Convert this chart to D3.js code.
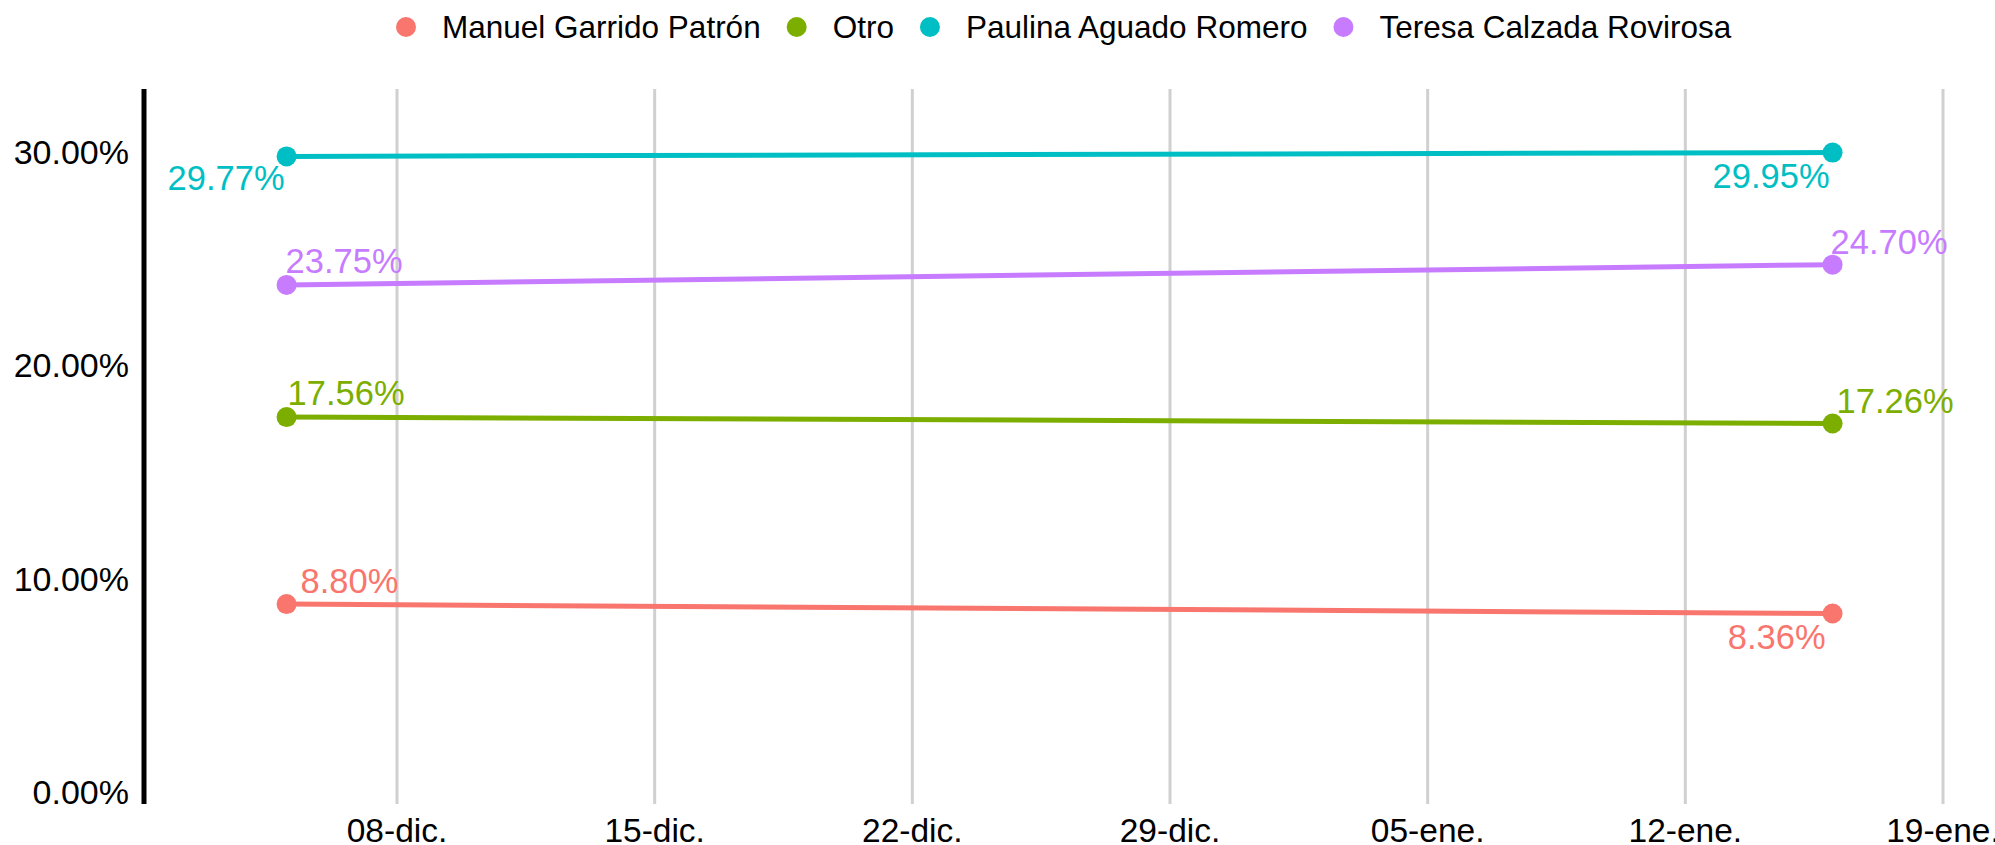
<!DOCTYPE html>
<html>
<head>
<meta charset="utf-8">
<script src="https://cdn.jsdelivr.net/npm/d3@7"></script>
<style>
  html, body { margin: 0; padding: 0; background: #ffffff; }
  svg { display: block; font-family: "Liberation Sans", Arial, Helvetica, sans-serif; }
</style>
</head>
<body>
<svg id="chart" width="1995" height="845"></svg>
<script>
// ---- data ----
const seriesNames = ["Manuel Garrido Patrón", "Otro", "Paulina Aguado Romero", "Teresa Calzada Rovirosa"];
const seriesColors = ["#F8766D", "#7CAE00", "#00BFC4", "#C77CFF"];
const pollDates = ["2023-12-05", "2024-01-16"];
const manuelValues = [8.80, 8.36];
const otroValues = [17.56, 17.26];
const paulinaValues = [29.77, 29.95];
const teresaValues = [23.75, 24.70];
const yTickValues = [0, 10, 20, 30];
const xTickDates = ["2023-12-08", "2023-12-15", "2023-12-22", "2023-12-29", "2024-01-05", "2024-01-12", "2024-01-19"];
const monthAbbr = ["ene.", "feb.", "mar.", "abr.", "may.", "jun.", "jul.", "ago.", "sept.", "oct.", "nov.", "dic."];

// label placement (styling only): anchor, dx, dy per series for first/last point
const labelPlacement = [
  [{a: "start", dx: 14, dy: -11}, {a: "end", dx: -7, dy: 35}],
  [{a: "start", dx: 1, dy: -12}, {a: "start", dx: 4, dy: -10}],
  [{a: "end", dx: -2, dy: 34}, {a: "end", dx: -3, dy: 35}],
  [{a: "start", dx: -1, dy: -12}, {a: "start", dx: -2, dy: -11}]
];

const allValues = [manuelValues, otroValues, paulinaValues, teresaValues];
const parse = d3.timeParse("%Y-%m-%d");
const dates = pollDates.map(parse);

const svg = d3.select("#chart");

// scales
const x = d3.scaleTime()
  .domain([parse("2023-12-08"), parse("2024-01-19")])
  .range([397, 1943]);
const y = d3.scaleLinear()
  .domain([0, 30])
  .range([792, 151.5]);

const panelTop = 89, panelBottom = 804, axisX = 144;

// vertical gridlines
const xTicks = xTickDates.map(parse);
svg.append("g").selectAll("line").data(xTicks).join("line")
  .attr("x1", d => x(d)).attr("x2", d => x(d))
  .attr("y1", panelTop).attr("y2", panelBottom)
  .attr("stroke", "#d0d0d0").attr("stroke-width", 3);

// x tick labels
const fmtX = d => d3.timeFormat("%d")(d) + "-" + monthAbbr[d.getMonth()];
svg.append("g").selectAll("text").data(xTicks).join("text")
  .attr("x", d => x(d)).attr("y", 842)
  .attr("text-anchor", "middle")
  .attr("font-size", 33.5)
  .attr("fill", "#000")
  .text(fmtX);

// y axis line
svg.append("line")
  .attr("x1", axisX).attr("x2", axisX)
  .attr("y1", panelTop).attr("y2", panelBottom)
  .attr("stroke", "#000").attr("stroke-width", 5);

// y tick labels
svg.append("g").selectAll("text").data(yTickValues).join("text")
  .attr("x", 129).attr("y", d => y(d))
  .attr("dy", "0.36em")
  .attr("text-anchor", "end")
  .attr("font-size", 34)
  .attr("fill", "#000")
  .text(d => d3.format(".2f")(d) + "%");

// lines, points, labels
const line = d3.line().x(d => x(d.date)).y(d => y(d.value));
seriesNames.forEach((name, i) => {
  const pts = dates.map((dt, j) => ({date: dt, value: allValues[i][j]}));
  const g = svg.append("g");
  g.append("path").datum(pts)
    .attr("d", line)
    .attr("fill", "none")
    .attr("stroke", seriesColors[i])
    .attr("stroke-width", 5);
  g.selectAll("circle").data(pts).join("circle")
    .attr("cx", d => x(d.date)).attr("cy", d => y(d.value))
    .attr("r", 10)
    .attr("fill", seriesColors[i]);
  g.selectAll("text").data(pts).join("text")
    .attr("x", (d, j) => x(d.date) + labelPlacement[i][j].dx)
    .attr("y", (d, j) => y(d.value) + labelPlacement[i][j].dy)
    .attr("text-anchor", (d, j) => labelPlacement[i][j].a)
    .attr("font-size", 34.5)
    .attr("fill", seriesColors[i])
    .text(d => d3.format(".2f")(d.value) + "%");
});

// legend
const legend = svg.append("g");
let cursor = 0;
seriesNames.forEach((name, i) => {
  const it = legend.append("g");
  it.append("circle").attr("cx", cursor).attr("cy", 27).attr("r", 10).attr("fill", seriesColors[i]);
  const t = it.append("text").attr("x", cursor + 36).attr("y", 27).attr("dy", "0.36em")
    .attr("font-size", 31.5).attr("fill", "#000").text(name);
  const w = t.node().getComputedTextLength();
  cursor += 36 + w + 36;
});
legend.attr("transform", `translate(${406}, 0)`);
</script>
</body>
</html>
